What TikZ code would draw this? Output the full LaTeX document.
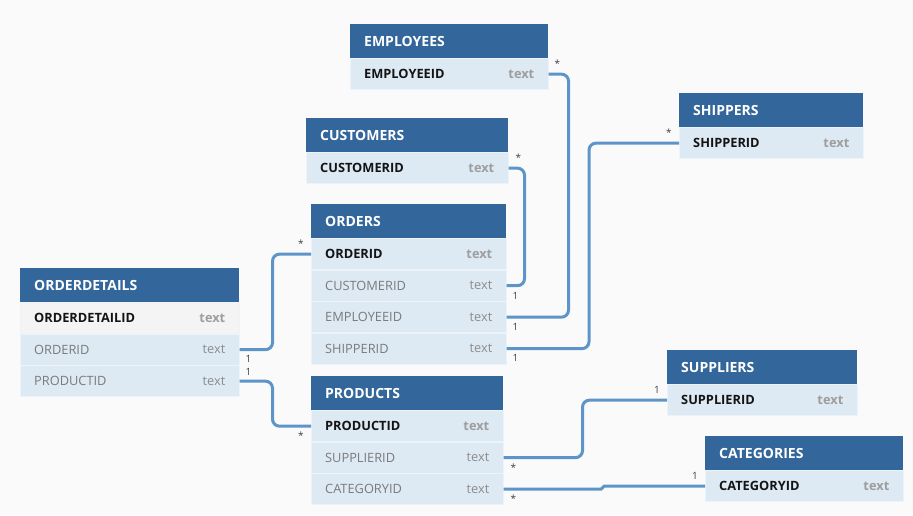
\documentclass[tikz,border=0pt]{standalone}
\usepackage{fontspec}
\setmainfont{Open Sans}
\definecolor{hdrc}{HTML}{33669A}
\definecolor{rowbg}{HTML}{DDEAF4}
\definecolor{keybg}{HTML}{F4F4F4}
\definecolor{connc}{HTML}{5E95C8}
\definecolor{bgc}{HTML}{FAFAFA}
\tikzset{
  hdrbox/.style={fill=hdrc, draw=none, minimum height=34pt, inner sep=0pt, anchor=north west},
  rowbox/.style={draw=rowbg!55!white, line width=0.5pt, minimum height=31pt, inner sep=0pt, anchor=north west},
  tabtitle/.style={text=white, font=\fontsize{14}{16}\selectfont\bfseries, anchor=west, inner sep=0pt},
  keyname/.style={font=\fontsize{12.8}{14}\selectfont\bfseries, text=black!92, anchor=west, inner sep=0pt},
  fname/.style={font=\fontsize{12.8}{14}\selectfont, text=black!52, anchor=west, inner sep=0pt},
  keytype/.style={font=\fontsize{12.8}{14}\selectfont\bfseries, text=black!38, anchor=east, inner sep=0pt},
  ftype/.style={font=\fontsize{12.8}{14}\selectfont, text=black!45, anchor=east, inner sep=0pt},
  conn/.style={draw=connc, line width=3pt, rounded corners=7pt},
  card/.style={font=\fontsize{10}{12}\selectfont, text=black!75, inner sep=0pt}
}
\newcommand\ertab[5]{%
  \node[hdrbox, minimum width=#4pt] (#1) at (#2,#3) {};
  \node[tabtitle] at ([xshift=14pt]#1.west) {#5};
}
\newcommand\errow[6]{%
  \node[rowbox, fill=#6, minimum width=#3pt] (#1) at (#2.south west) {};
  \node[#5name] at ([xshift=14pt]#1.west) {#4};
  \node[#5type] at ([xshift=-14pt]#1.east) {text};
}
\begin{document}
\begin{tikzpicture}[x=1pt,y=-1pt]
\fill[bgc] (0,0) rectangle (913,515);
\useasboundingbox (0,0) rectangle (913,515);

% EMPLOYEES
\ertab{emp}{350}{24}{198}{EMPLOYEES}
\errow{emp1}{emp}{198}{EMPLOYEEID}{key}{rowbg}
% CUSTOMERS
\ertab{cust}{306}{118}{202}{CUSTOMERS}
\errow{cust1}{cust}{202}{CUSTOMERID}{key}{rowbg}
% SHIPPERS
\ertab{ship}{679}{93}{184}{SHIPPERS}
\errow{ship1}{ship}{184}{SHIPPERID}{key}{rowbg}
% ORDERS
\ertab{ord}{311}{204}{195}{ORDERS}
\errow{ord1}{ord}{195}{ORDERID}{key}{rowbg}
\errow{ord2}{ord1}{195}{CUSTOMERID}{f}{rowbg}
\errow{ord3}{ord2}{195}{EMPLOYEEID}{f}{rowbg}
\errow{ord4}{ord3}{195}{SHIPPERID}{f}{rowbg}
% ORDERDETAILS
\ertab{od}{20}{268}{219}{ORDERDETAILS}
\errow{od1}{od}{219}{ORDERDETAILID}{key}{keybg}
\errow{od2}{od1}{219}{ORDERID}{f}{rowbg}
\errow{od3}{od2}{219}{PRODUCTID}{f}{rowbg}
% PRODUCTS
\ertab{prod}{311}{376}{192}{PRODUCTS}
\errow{prod1}{prod}{192}{PRODUCTID}{key}{rowbg}
\errow{prod2}{prod1}{192}{SUPPLIERID}{f}{rowbg}
\errow{prod3}{prod2}{192}{CATEGORYID}{f}{rowbg}
% SUPPLIERS
\ertab{supp}{667}{350}{190}{SUPPLIERS}
\errow{supp1}{supp}{190}{SUPPLIERID}{key}{rowbg}
% CATEGORIES
\ertab{cat}{705}{436}{198}{CATEGORIES}
\errow{cat1}{cat}{198}{CATEGORYID}{key}{rowbg}

% connectors
\draw[conn] (emp1.east) -- ++(20,0) |- (ord3.east);
\draw[conn] (cust1.east) -- ++(16,0) |- (ord2.east);
\draw[conn] (ship1.west) -- ++(-90,0) |- (ord4.east);
\draw[conn] (od2.east) -- ++(33,0) |- (ord1.west);
\draw[conn] (od3.east) -- ++(33,0) |- (prod1.west);
\draw[conn] (prod2.east) -- ++(79,0) |- (supp1.west);
\draw[conn, rounded corners=1.5pt] (prod3.east) -- ++(99,0) |- (cat1.west);

% cardinalities
\node[card] at ([xshift=9pt,yshift=10pt]emp1.east) {*};
\node[card] at ([xshift=10pt,yshift=10pt]cust1.east) {*};
\node[card] at ([xshift=-10pt,yshift=10pt]ship1.west) {*};
\node[card] at ([xshift=9pt,yshift=-10pt]ord2.east) {1};
\node[card] at ([xshift=9pt,yshift=-10pt]ord3.east) {1};
\node[card] at ([xshift=9pt,yshift=-9pt]ord4.east) {1};
\node[card] at ([xshift=9pt,yshift=-9pt]od2.east) {1};
\node[card] at ([xshift=9pt,yshift=9pt]od3.east) {1};
\node[card] at ([xshift=-10pt,yshift=10pt]ord1.west) {*};
\node[card] at ([xshift=-10pt,yshift=-10pt]prod1.west) {*};
\node[card] at ([xshift=10pt,yshift=-10pt]prod2.east) {*};
\node[card] at ([xshift=10pt,yshift=-10pt]prod3.east) {*};
\node[card] at ([xshift=-10pt,yshift=10pt]supp1.west) {1};
\node[card] at ([xshift=-10pt,yshift=10pt]cat1.west) {1};
\end{tikzpicture}
\end{document}
